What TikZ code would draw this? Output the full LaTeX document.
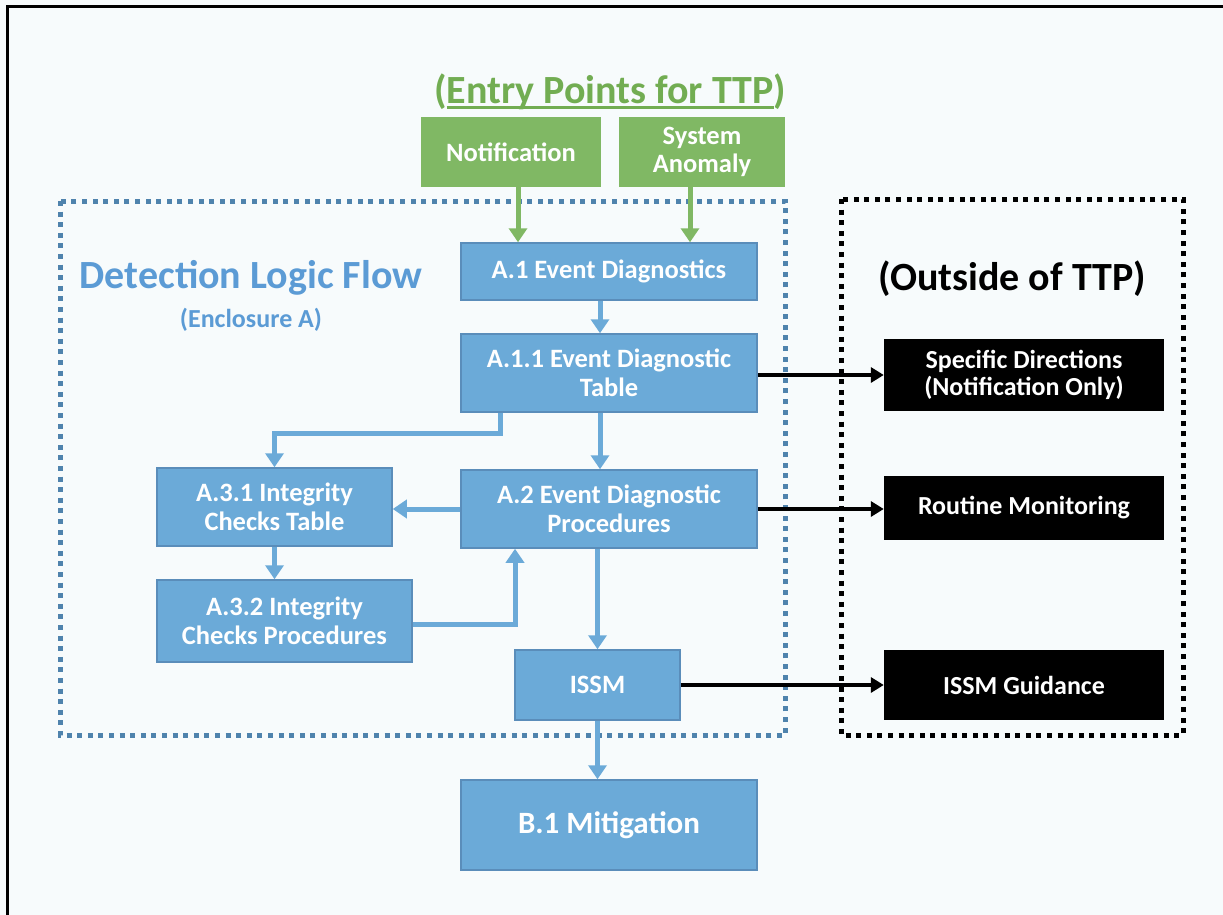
\documentclass[tikz,border=0pt]{standalone}
\usepackage{fontspec}
\setmainfont{Carlito}
\usetikzlibrary{arrows.meta}
\definecolor{pagebg}{HTML}{F7FBFC}
\definecolor{stagefill}{HTML}{6BAAD8}
\definecolor{stageedge}{HTML}{5A8DBA}
\definecolor{entryfill}{HTML}{80B864}
\definecolor{entrytext}{HTML}{72AD52}
\definecolor{flowtext}{HTML}{5B9BD5}
\definecolor{flowdots}{HTML}{4F83AD}
\newcommand\thickul[1]{\setbox0\hbox{#1}\rlap{\rule[-5pt]{\wd0}{2.5pt}}\box0}

\begin{document}
\begin{tikzpicture}[x=1pt, y=1pt,
        stage/.style={draw=stageedge, line width=1.5pt, fill=stagefill, text=white,
                font=\fontsize{26.5}{29}\selectfont\bfseries, align=center, inner sep=0pt},
        entry/.style={fill=entryfill, text=white, minimum height=70pt,
                font=\fontsize{26.5}{28}\selectfont\bfseries, align=center, inner sep=0pt},
        outside/.style={fill=black, text=white, minimum width=280pt,
                font=\fontsize{26}{27}\selectfont\bfseries, align=center, inner sep=0pt},
        arrow/.style={-{Triangle[width=18pt, length=14pt]}, line width=5pt, draw=stagefill},
        garrow/.style={arrow, draw=entryfill},
        oarrow/.style={-{Triangle[width=15pt, length=13pt]}, line width=4pt, draw=black},
        enclosure/.style={line width=5pt, dash pattern=on 5pt off 5.6pt},
    ]

    \fill[pagebg] (0,0) rectangle (1223,-915);
    \useasboundingbox (0,0) rectangle (1223,-915);
    \draw[line width=3pt] (7,-915) -- (7,-7) -- (1223,-7);

    \draw[enclosure, draw=flowdots] (60,-201) rectangle (785,-735);
    \draw[enclosure, draw=black] (841,-199) rectangle (1183,-735);

    \node[font=\fontsize{40}{44}\selectfont\bfseries, text=entrytext] (entry_title)
        at (610,-92) {(\thickul{Entry Points for TTP})};
    \node[font=\fontsize{40}{44}\selectfont\bfseries, text=flowtext] (flow_title)
        at (251,-278) {Detection Logic Flow};
    \node[font=\fontsize{26}{30}\selectfont\bfseries, text=flowtext] (flow_sub)
        at (251,-320) {(Enclosure A)};
    \node[font=\fontsize{40}{44}\selectfont\bfseries] (outside_title)
        at (1012,-279) {(Outside of TTP)};

    \node[entry, minimum width=180pt] (notification) at (511,-152) {Notification};
    \node[entry, minimum width=166pt] (anomaly) at (702,-152) {System\\Anomaly};

    \node[stage, minimum width=296pt, minimum height=57pt] (diag) at (609,-271.5) {A.1 Event Diagnostics};
    \node[stage, minimum width=296pt, minimum height=78pt] (diag_table) at (609,-373) {A.1.1 Event Diagnostic\\Table};
    \node[stage, minimum width=296pt, minimum height=78pt] (diag_proc) at (609,-509) {A.2 Event Diagnostic\\Procedures};
    \node[stage, minimum width=235pt, minimum height=78pt] (check_table) at (274.5,-507) {A.3.1 Integrity\\Checks Table};
    \node[stage, minimum width=255pt, minimum height=82pt] (check_proc) at (284.5,-621) {A.3.2 Integrity\\Checks Procedures};
    \node[stage, minimum width=165pt, minimum height=70pt] (issm) at (597.5,-685) {ISSM};
    \node[stage, minimum width=296pt, minimum height=90pt, font=\fontsize{31}{34}\selectfont\bfseries] (mitigation) at (609,-825) {B.1 Mitigation};

    \node[outside, minimum height=72pt] (directions) at (1024,-375) {Specific Directions\\(Notification Only)};
    \node[outside, minimum height=64pt] (monitoring) at (1024,-508) {Routine Monitoring};
    \node[outside, minimum height=70pt] (guidance) at (1024,-685) {ISSM Guidance};

    \draw[garrow] (notification.south) ++(7,0) coordinate (n_out) -- (n_out |- diag.north);
    \draw[garrow] (anomaly.south) ++(-12,0) coordinate (s_out) -- (s_out |- diag.north);

    \draw[arrow] (diag.south) ++(-9,0) coordinate (d_out) -- (d_out |- diag_table.north);
    \draw[arrow] (diag_table.south) ++(-9,0) coordinate (t_out) -- (t_out |- diag_proc.north);
    \draw[arrow] (diag_table.south) ++(-109,0) -- ++(0,-21) -| (check_table.north);
    \draw[arrow] (diag_proc.west) -- (diag_proc.west -| check_table.east);
    \draw[arrow] (check_table.south) -- (check_table.south |- check_proc.north);
    \coordinate (p_in) at ([xshift=-94pt]diag_proc.south);
    \draw[arrow] (check_proc.east) ++(0,-3) -| (p_in);
    \draw[arrow] (issm.north |- diag_proc.south) -- (issm.north);
    \draw[arrow] (issm.south) -- (issm.south |- mitigation.north);

    \draw[oarrow] (diag_table.east) ++(0,-2) coordinate (e1) -- (e1 -| directions.west);
    \draw[oarrow] (diag_proc.east) -- (diag_proc.east -| monitoring.west);
    \draw[oarrow] (issm.east) -- (issm.east -| guidance.west);
\end{tikzpicture}
\end{document}
